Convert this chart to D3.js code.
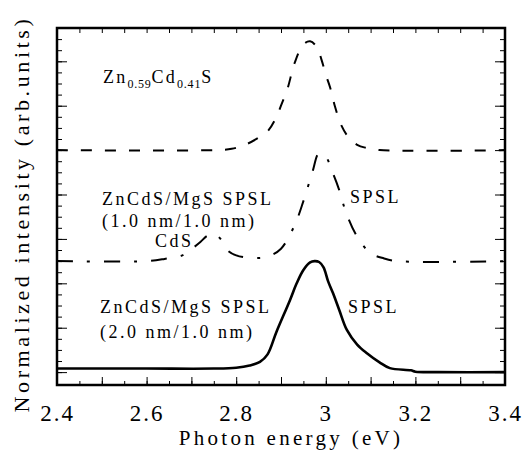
<!DOCTYPE html>
<html>
<head>
<meta charset="utf-8">
<script src="https://d3js.org/d3.v7.min.js"></script>
<style>
    body { margin: 0; background: #fff; }
    svg text { font-family: "Liberation Serif", "Times New Roman", Times, "DejaVu Serif", serif !important; fill: #000; }
</style>
</head>
<body>
<div id="chart"></div>
<script>

// Zn0.59Cd0.41S (dashed), offset 0.5
let alloyX = [2.40, 2.75, 2.79, 2.82, 2.85, 2.87, 2.89, 2.90, 2.915, 2.93, 2.95, 2.965, 2.98, 2.99, 3.00, 3.01, 3.02, 3.035, 3.05, 3.07, 3.09, 3.12, 3.40];
let alloyY = [0, 0, 0.003, 0.012, 0.028, 0.042, 0.075, 0.10, 0.14, 0.195, 0.238, 0.245, 0.232, 0.205, 0.17, 0.14, 0.10, 0.055, 0.03, 0.012, 0.005, 0, 0];

// ZnCdS/MgS SPSL 1.0 nm/1.0 nm (dash-dot), offset 0.25
let spsl1X = [2.40, 2.60, 2.64, 2.68, 2.70, 2.72, 2.735, 2.75, 2.765, 2.78, 2.80, 2.84, 2.87, 2.90, 2.93, 2.95, 2.97, 2.985, 3.00, 3.015, 3.03, 3.045, 3.07, 3.10, 3.13, 3.16, 3.40];
let spsl1Y = [0, 0, 0.005, 0.013, 0.027, 0.043, 0.057, 0.062, 0.05, 0.025, 0.013, 0.007, 0.01, 0.028, 0.08, 0.135, 0.2, 0.243, 0.235, 0.2, 0.16, 0.11, 0.055, 0.018, 0.006, 0, 0];

// ZnCdS/MgS SPSL 2.0 nm/1.0 nm (solid), offset 0
let spsl2X = [2.40, 2.60, 2.75, 2.80, 2.83, 2.853, 2.87, 2.89, 2.92, 2.935, 2.95, 2.965, 2.975, 2.985, 2.995, 3.005, 3.016, 3.03, 3.047, 3.07, 3.091, 3.12, 3.143, 3.19, 3.20, 3.25, 3.40];
let spsl2Y = [0.008, 0.008, 0.008, 0.010, 0.015, 0.023, 0.040, 0.091, 0.162, 0.200, 0.230, 0.247, 0.250, 0.248, 0.236, 0.205, 0.178, 0.14, 0.095, 0.062, 0.043, 0.022, 0.009, 0.004, 0.001, 0, 0];

let offsets = [0.5, 0.25, 0];
let xTickLabels = [2.4, 2.6, 2.8, 3.0, 3.2, 3.4];

let width = 524, height = 451;
let margin = {top: 28, right: 19, bottom: 66, left: 57};
let plotW = width - margin.left - margin.right;
let plotH = height - margin.top - margin.bottom;

let svg = d3.select("#chart").append("svg")
    .attr("width", width)
    .attr("height", height);

let g = svg.append("g")
    .attr("transform", `translate(${margin.left},${margin.top})`);

let x = d3.scaleLinear().domain([2.4, 3.4]).range([0, plotW]);
let y = d3.scaleLinear().domain([-0.029, 0.775]).range([plotH, 0]);

// ticks all around, pointing inward
let xMinor = d3.range(2.4, 3.4001, 0.05);
let xMajor = d3.range(2.4, 3.4001, 0.1);
let yMinor = d3.range(0, 0.7751, 0.025);
let yMajor = d3.range(0, 0.7751, 0.1);

g.append("g").attr("transform", `translate(0,${plotH})`)
    .call(d3.axisBottom(x).tickValues(xMinor).tickSize(-4).tickFormat(""));
g.append("g").attr("transform", `translate(0,${plotH})`)
    .call(d3.axisBottom(x).tickValues(xMajor).tickSize(-8).tickFormat(""));
g.append("g")
    .call(d3.axisTop(x).tickValues(xMinor).tickSize(-5).tickFormat(""));
g.append("g")
    .call(d3.axisLeft(y).tickValues(yMinor).tickSize(-5).tickFormat(""));
g.append("g")
    .call(d3.axisLeft(y).tickValues(yMajor).tickSize(-10).tickFormat(""));
g.append("g").attr("transform", `translate(${plotW},0)`)
    .call(d3.axisRight(y).tickValues(yMinor).tickSize(-5).tickFormat(""));
g.append("g").attr("transform", `translate(${plotW},0)`)
    .call(d3.axisRight(y).tickValues(yMajor).tickSize(-10).tickFormat(""));

g.selectAll(".domain").remove();
g.selectAll(".tick line").attr("stroke", "#000").attr("stroke-width", 1);

// x tick labels
g.append("g").attr("transform", `translate(0,${plotH})`)
    .call(d3.axisBottom(x).tickValues(xTickLabels).tickSize(0).tickPadding(36).tickFormat(d3.format("")))
    .call(a => a.select(".domain").remove())
    .selectAll("text")
    .style("font-size", "23px")
    .style("letter-spacing", "2px")
    .attr("dy", "0");

// frame
g.append("rect")
    .attr("width", plotW)
    .attr("height", plotH)
    .attr("fill", "none")
    .attr("stroke", "#000")
    .attr("stroke-width", 2.5);

// curves
let series = [
    {xs: alloyX, ys: alloyY, off: offsets[0], dash: "11,13", w: 2},
    {xs: spsl1X, ys: spsl1Y, off: offsets[1], dash: "16,14,3,14", w: 2},
    {xs: spsl2X, ys: spsl2Y, off: offsets[2], dash: null, w: 2.6}
];

let line = d3.line()
    .x(d => x(d[0]))
    .y(d => y(d[1]))
    .curve(d3.curveCatmullRom.alpha(0.5));

series.forEach(s => {
    let pts = s.xs.map((v, i) => [v, s.ys[i] + s.off]);
    g.append("path")
        .datum(pts)
        .attr("d", line)
        .attr("fill", "none")
        .attr("stroke", "#000")
        .attr("stroke-width", s.w)
        .attr("stroke-dasharray", s.dash);
});

// annotations
function label(txt, lx, ly) {
    return svg.append("text")
        .attr("x", lx)
        .attr("y", ly)
        .style("font-size", "18px")
        .style("letter-spacing", "2.5px")
        .text(txt);
}

let alloy = svg.append("text")
    .attr("x", 103)
    .attr("y", 83)
    .style("font-size", "18px")
    .style("letter-spacing", "2.2px");
alloy.append("tspan").text("Zn");
alloy.append("tspan").attr("dy", 5).style("font-size", "12px").style("letter-spacing", "0.8px").text("0.59");
alloy.append("tspan").attr("dy", -5).text("Cd");
alloy.append("tspan").attr("dy", 5).style("font-size", "12px").style("letter-spacing", "0.8px").text("0.41");
alloy.append("tspan").attr("dy", -5).text("S");

label("ZnCdS/MgS SPSL", 102, 205);
label("(1.0 nm/1.0 nm)", 102, 227);
label("CdS", 155, 247);
label("SPSL", 350, 203);
label("ZnCdS/MgS SPSL", 100, 313);
label("(2.0 nm/1.0 nm)", 100, 338);
label("SPSL", 348, 313);

// axis titles
svg.append("text")
    .attr("x", 291)
    .attr("y", 445)
    .attr("text-anchor", "middle")
    .style("font-size", "21px")
    .style("letter-spacing", "3.3px")
    .text("Photon energy (eV)");

svg.append("text")
    .attr("transform", "translate(29,214) rotate(-90)")
    .attr("text-anchor", "middle")
    .style("font-size", "22px")
    .style("letter-spacing", "3.6px")
    .text("Normalized intensity (arb.units)");

</script>
</body>
</html>
